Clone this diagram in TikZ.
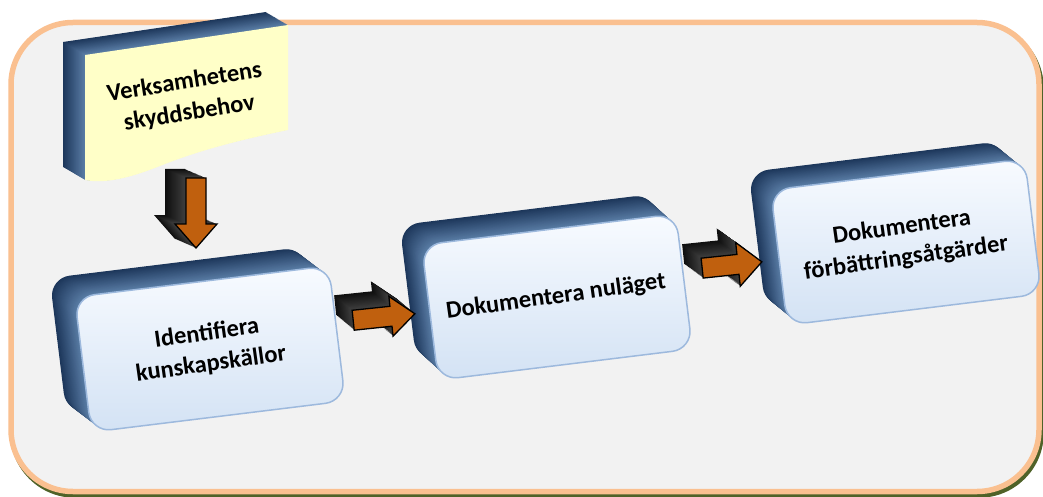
\documentclass[tikz,border=0pt]{standalone}
\usepackage{fontspec}
\setmainfont{Carlito}
\usetikzlibrary{calc}
\definecolor{framebg}{HTML}{F2F2F2}
\definecolor{framepeach}{HTML}{FAC090}
\definecolor{frameshadow}{HTML}{4F6228}
\definecolor{sideback}{HTML}{1C365A}
\definecolor{sidefront}{HTML}{5A7DA6}
\definecolor{facetop}{HTML}{F8FBFF}
\definecolor{facebot}{HTML}{D3E2F4}
\definecolor{faceedge}{HTML}{9DB9DD}
\definecolor{docfill}{HTML}{FFFFC8}
\definecolor{arrfront}{HTML}{C0600E}
\definecolor{arrback}{HTML}{0E0E0E}
\definecolor{arrside}{HTML}{404040}
\newcommand\MyBox[5]{%
  \foreach \i in {30,...,1}{%
    \pgfmathsetmacro\f{\i/30}%
    \pgfmathtruncatemacro\p{100*\f}%
    \fill[sideback!\p!sidefront, shift={({#1+\f*(#3)},{#2+\f*(#4)})}, rotate=#5, rounded corners=20] (-128,-68) rectangle (128,68);
  }%
  \shade[shift={(#1,#2)}, rotate=#5, rounded corners=20, top color=facetop, bottom color=facebot, draw=faceedge, line width=1.5] (-128,-68) rectangle (128,68);
}
\newcommand\MyArrow[7]{%
  \foreach \i in {20,...,1}{%
    \pgfmathsetmacro\f{\i/20}%
    \pgfmathtruncatemacro\p{100*\f}%
    \fill[arrback!\p!arrside, shift={({#1+\f*(#6)},{#2+\f*(#7)})}, rotate=#3] (-#4/2,-10) -- (#4/2-24,-10) -- (#4/2-24,-#5) -- (#4/2,0) -- (#4/2-24,#5) -- (#4/2-24,10) -- (-#4/2,10) -- cycle;
  }%
  \filldraw[fill=arrfront, draw=black, line width=1.3, line join=miter, shift={(#1,#2)}, rotate=#3] (-#4/2,-10) -- (#4/2-24,-10) -- (#4/2-24,-#5) -- (#4/2,0) -- (#4/2-24,#5) -- (#4/2-24,10) -- (-#4/2,10) -- cycle;
}
\tikzset{lbl/.style={align=center, font=\fontsize{24.5}{31}\selectfont\bfseries, text=black, inner sep=0pt}}
\begin{document}
\begin{tikzpicture}[x=1pt,y=-1pt]
\useasboundingbox (0,0) rectangle (1043,497);
\fill[white] (0,0) rectangle (1043,497);
% outer frame
\filldraw[fill=frameshadow, draw=frameshadow, line width=5.5, rounded corners=62, shift={(2,3.5)}] (11,22.5) rectangle (1039,491.5);
\filldraw[fill=framebg, draw=framepeach, line width=5.5, rounded corners=62] (11,22.5) rectangle (1039,491.5);
% document shape
\foreach \i in {30,...,1}{%
  \pgfmathsetmacro\f{\i/30}%
  \pgfmathtruncatemacro\p{100*\f}%
  \fill[sideback!\p!sidefront, shift={({\f*(-22)},{\f*(-13)})}] (85,55) -- (288,25) -- (288,130) .. controls (240,140) and (200,150) .. (160,166) .. controls (130,178) and (105,184) .. (85,180) -- cycle;
}
\fill[docfill] (85,55) -- (288,25) -- (288,130) .. controls (240,140) and (200,150) .. (160,166) .. controls (130,178) and (105,184) .. (85,180) -- cycle;
\node[lbl, rotate=9] (doc) at (187,98) {Verksamhetens\\skyddsbehov};
% boxes
\MyBox{210}{349}{-25}{-19}{7}
\MyBox{557}{297}{-22}{-20}{7}
\MyBox{906}{242}{-22}{-18}{7}
\node[lbl, rotate=8] (b1) at (209,349) {Identifiera\\kunskapskällor};
\node[lbl, rotate=8] (b2) at (556,297) {Dokumentera nuläget};
\node[lbl, rotate=8] (b3) at (904,243) {Dokumentera\\förbättringsåtgärder};
% arrows
\coordinate (a0) at (196,213);
\coordinate (a1) at (384,317);
\coordinate (a2) at (732,265);
\MyArrow{196}{213}{-90}{70}{21}{-21}{-9}
\MyArrow{384}{317}{6}{62}{20}{-18}{-15}
\MyArrow{732}{265}{6}{60}{22}{-19}{-14}
\end{tikzpicture}
\end{document}
